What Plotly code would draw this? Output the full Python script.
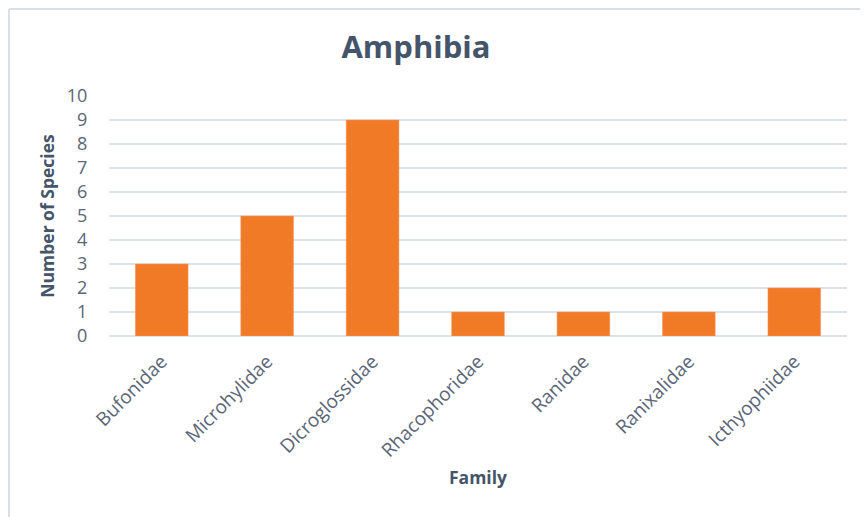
import plotly.graph_objects as go

families = ["Bufonidae", "Microhylidae", "Dicroglossidae", "Rhacophoridae",
            "Ranidae", "Ranixalidae", "Icthyophiidae"]
species_counts = [3, 5, 9, 1, 1, 1, 2]
y_ticks = list(range(0, 11))

# screen geometry (page has an 8px body margin)
OFF = 8
SW, SH = 868, 517
W, H = SW - OFF, SH - OFF
PL, PR, PT, PB = 109, 847, 96, 336   # plot area in screen px
L, T = PL - OFF, PT - OFF
R = W - (PR - OFF)
B = H - (PB - OFF)
pw, ph = W - L - R, H - T - B

def px_x(x):
    return (x - PL) / pw

def px_y(y):
    return (PB - y) / ph

font_fam = "Open Sans, Lato, sans-serif"
slate = "#44546A"
tick_col = "#5B6577"
grid_col = "#DDE1E8"

fig = go.Figure(go.Bar(
    x=families, y=species_counts,
    width=0.5,
    marker=dict(color="#F07A26", line=dict(color="#F49A5E", width=0.5)),
))

fig.update_layout(
    width=W, height=H,
    margin=dict(l=L, r=R, t=T, b=B, autoexpand=False),
    paper_bgcolor="white", plot_bgcolor="white",
    showlegend=False,
    title=dict(text="<b>Amphibia</b>", x=px_x(416), xref="paper", xanchor="center",
               y=1 - (47 - OFF) / H, yanchor="middle",
               font=dict(family=font_fam, size=31, color=slate)),
    xaxis=dict(
        tickangle=-45, tickfont=dict(family=font_fam, size=19, color=tick_col),
        showgrid=False, showline=False, zeroline=False,
        ticks="outside", ticklen=6, tickcolor="rgba(0,0,0,0)",
        title=dict(text="<b>Family</b>", font=dict(family=font_fam, size=17.5, color=slate),
                   standoff=10),
        range=[-0.5, len(families) - 0.5],
    ),
    yaxis=dict(
        range=[0, 10], tickvals=y_ticks,
        tickfont=dict(family=font_fam, size=18, color=tick_col),
        showgrid=True, gridcolor=grid_col, gridwidth=1.5,
        zeroline=True, zerolinecolor=grid_col, zerolinewidth=1.5,
        showline=False, ticks="outside", ticklen=17, tickcolor="rgba(0,0,0,0)",
        title=dict(text="<b>Number of Species</b>",
                   font=dict(family=font_fam, size=17.5, color=slate), standoff=7),
    ),
    shapes=[
        dict(type="line", xref="paper", yref="paper",
             x0=px_x(OFF + 1), x1=px_x(SW + 5), y0=px_y(OFF + 1), y1=px_y(OFF + 1),
             line=dict(color="#DADFE6", width=2)),
        dict(type="line", xref="paper", yref="paper",
             x0=px_x(OFF + 1), x1=px_x(OFF + 1), y0=px_y(OFF + 1), y1=px_y(SH + 5),
             line=dict(color="#DADFE6", width=2)),
    ],
)

fig.write_html("out.html")
